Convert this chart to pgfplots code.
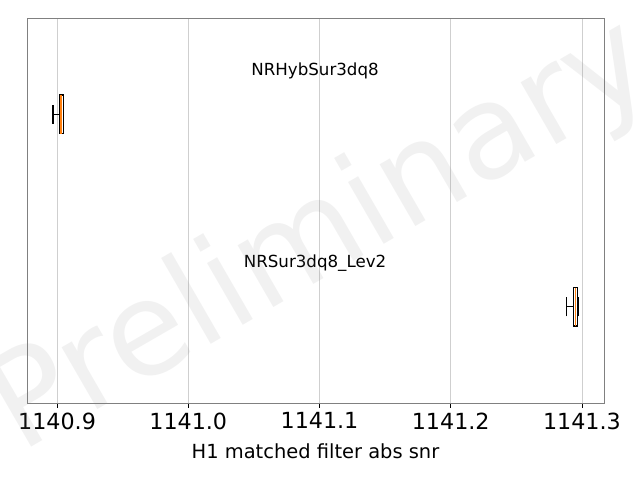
\documentclass[border=0pt]{standalone}
\usepackage{pgfplots}
\pgfplotsset{compat=1.18}
\usepgfplotslibrary{statistics}
\usepackage{fontspec}
\setmainfont{DejaVu Sans}
\definecolor{mplorange}{HTML}{FF7F0E}
\definecolor{spinegray}{HTML}{808080}
\definecolor{gridgray}{HTML}{CFCFCF}
\begin{document}
\begin{tikzpicture}
\path[use as bounding box] (0,0) rectangle (460.8pt,345.6pt);
\begin{axis}[
  at={(19.44pt,55.44pt)}, anchor=south west,
  scale only axis, width=415.44pt, height=277.2pt,
  xmin=1140.8771, xmax=1141.3168,
  ymin=0.5, ymax=2.5,
  ytick=\empty,
  xtick={1140.9,1141.0,1141.1,1141.2,1141.3},
  xticklabels={1140.9,1141.0,1141.1,1141.2,1141.3},
  xmajorgrids,
  grid style={gridgray, line width=0.6pt},
  axis line style={spinegray, line width=0.6pt},
  tick align=outside, tick pos=bottom,
  major tick length=3.5pt,
  tick style={black, line width=0.6pt},
  ticklabel style={font=\fontsize{16}{19}\selectfont},
  /pgf/number format/assume math mode=true,
  xlabel={H1 matched filter abs snr},
  xlabel style={font=\fontsize{14}{17}\selectfont, yshift=-3pt},
  boxplot/draw direction=x,
  clip=false,
]
\addplot[black, line width=0.9pt, boxplot prepared={
  draw position=2, box extend=0.2, whisker extend=0.1,
  lower whisker=1140.8970, lower quartile=1140.9017,
  median=1140.9031, upper quartile=1140.9048, upper whisker=1140.9050,
  every median/.style={draw=mplorange, line width=1.2pt}}]
  coordinates {};
\addplot[black, line width=0.9pt, boxplot prepared={
  draw position=1, box extend=0.2, whisker extend=0.1,
  lower whisker=1141.2883, lower quartile=1141.2937,
  median=1141.2950, upper quartile=1141.2965, upper whisker=1141.2975,
  every median/.style={draw=mplorange, line width=1.2pt}}]
  coordinates {};
\node[font=\fontsize{12}{14}\selectfont] at (axis cs:1141.0966,2.225) {NRHybSur3dq8};
\node[font=\fontsize{12}{14}\selectfont] at (axis cs:1141.0966,1.225) {NRSur3dq8\_Lev2};
\end{axis}
\node[rotate=30, text=gray, opacity=0.11, font=\fontsize{94}{94}\selectfont] at (232pt,174pt) {Preliminary};
\end{tikzpicture}
\end{document}
